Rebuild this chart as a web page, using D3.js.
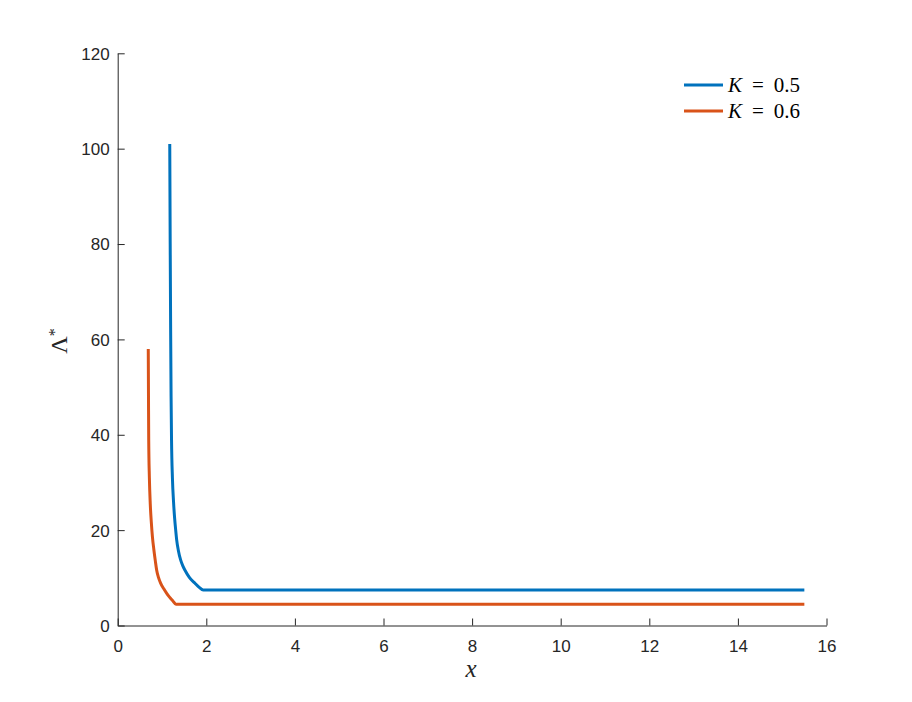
<!DOCTYPE html>
<html>
<head>
<meta charset="utf-8">
<script src="https://cdn.jsdelivr.net/npm/d3@7"></script>
<style>
  html, body { margin: 0; padding: 0; background: #fff; }
  svg { display: block; }
</style>
</head>
<body>
<svg id="chart" width="912" height="702"></svg>
<script>
// ---- data ----
const xTicks = [0, 2, 4, 6, 8, 10, 12, 14, 16];
const yTicks = [0, 20, 40, 60, 80, 100, 120];

const seriesK = ["0.5", "0.6"];

const xBlue = [1.175, 1.185, 1.195, 1.205, 1.215, 1.235, 1.26, 1.285, 1.309, 1.332, 1.368, 1.422, 1.47, 1.519, 1.617, 1.745, 1.84, 1.93, 15.5];
const yBlue = [101, 80, 62, 48, 39, 31, 26, 22.5, 20, 17.9, 15.8, 13.7, 12.5, 11.6, 10.1, 8.85, 8.0, 7.45, 7.45];

const xOrange = [0.69, 0.695, 0.70, 0.715, 0.735, 0.76, 0.785, 0.815, 0.85, 0.88, 0.92, 0.971, 1.04, 1.106, 1.17, 1.242, 1.316, 15.5];
const yOrange = [58, 48, 39, 31, 25.5, 21.5, 18.5, 16, 13.5, 11.6, 10.1, 8.85, 7.7, 6.75, 5.95, 5.2, 4.45, 4.45];

// ---- layout ----
const svg = d3.select("#chart");
const L = 117.7, R = 826.5, T = 53.3, B = 625.5;
const axisColor = "#262626";
const colors = ["#0072BD", "#D95319"];

const x = d3.scaleLinear().domain([0, 16]).range([L, R]);
const y = d3.scaleLinear().domain([0, 120]).range([B, T]);

// axes (ticks inward, MATLAB style)
const xAxis = d3.axisBottom(x).tickValues(xTicks).tickSizeInner(-7).tickSizeOuter(0).tickPadding(14);
const yAxis = d3.axisLeft(y).tickValues(yTicks).tickSizeInner(-7).tickSizeOuter(0).tickPadding(8);

const gx = svg.append("g").attr("transform", `translate(0,${B})`).call(xAxis);
const gy = svg.append("g").attr("transform", `translate(${L},0)`).call(yAxis);

[gx, gy].forEach(g => {
  g.select(".domain").attr("stroke", axisColor).attr("stroke-width", 1);
  g.selectAll(".tick line").attr("stroke", axisColor).attr("stroke-width", 1);
  g.selectAll(".tick text")
    .attr("fill", axisColor)
    .style("font-family", "'Liberation Sans', Arial, sans-serif")
    .style("font-size", "17px");
});
gy.selectAll(".tick text").attr("dy", "0.35em");

// lines
const line = d3.line().x(d => x(d[0])).y(d => y(d[1])).curve(d3.curveMonotoneX);
const dataSets = [
  d3.zip(xBlue, yBlue),
  d3.zip(xOrange, yOrange)
];
dataSets.forEach((ds, i) => {
  svg.append("path")
    .datum(ds)
    .attr("d", line)
    .attr("fill", "none")
    .attr("stroke", colors[i])
    .attr("stroke-width", 3)
    .attr("stroke-linejoin", "round");
});

// axis labels
svg.append("text")
  .attr("x", 471).attr("y", 677)
  .attr("text-anchor", "middle")
  .style("font-family", "'Liberation Serif', 'Times New Roman', serif")
  .style("font-style", "italic")
  .style("font-size", "25px")
  .attr("fill", axisColor)
  .text("x");

const yl = svg.append("text")
  .attr("transform", "translate(67,341) rotate(-90)")
  .attr("text-anchor", "middle")
  .style("font-family", "'Liberation Serif', 'Times New Roman', serif")
  .style("font-size", "24px")
  .attr("fill", axisColor);
yl.append("tspan").text("Λ");
yl.append("tspan").attr("dy", "-0.45em").style("font-size", "16px").text("*");

// legend
const legY = [85, 111];
seriesK.forEach((k, i) => {
  svg.append("line")
    .attr("x1", 684).attr("x2", 723)
    .attr("y1", legY[i]).attr("y2", legY[i])
    .attr("stroke", colors[i]).attr("stroke-width", 3);
  const t = svg.append("text")
    .attr("x", 728).attr("y", legY[i] + 7)
    .style("font-family", "'Liberation Serif', 'Times New Roman', serif")
    .style("font-size", "21px")
    .attr("fill", "#000");
  t.append("tspan").style("font-style", "italic").text("K");
  t.append("tspan").attr("dx", "10").text("=");
  t.append("tspan").attr("dx", "10").text(k);
});
</script>
</body>
</html>
